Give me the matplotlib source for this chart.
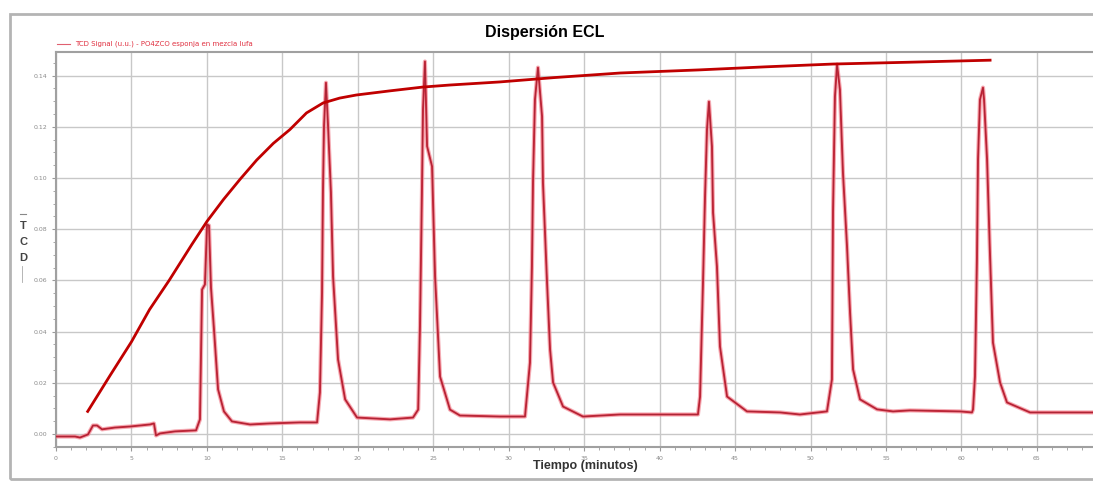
import matplotlib
matplotlib.use("Agg")
import matplotlib.pyplot as plt
from matplotlib.patches import Rectangle
from matplotlib.ticker import MultipleLocator

# TCD trace (time in minutes, signal in u.u.)
trace_t = [0.0, 1.26, 1.59, 2.12, 2.45, 2.72, 3.05, 3.91, 4.90, 6.23, 6.49, 6.63, 6.89, 7.89,
           # peak 1
           9.28, 9.54, 9.68, 9.87, 10.01, 10.14, 10.27, 10.47, 10.74, 11.13, 11.66, 12.86, 14.18, 16.17,
           # peak 2
           17.30, 17.49, 17.63, 17.69, 17.76, 17.89, 18.03, 18.22, 18.36, 18.69, 19.16, 19.95, 22.14, 23.66,
           # peak 3
           24.00, 24.12, 24.25, 24.32, 24.45, 24.59, 24.92, 25.12, 25.45, 26.11, 26.77, 29.42, 31.08,
           # peak 4
           31.41, 31.54, 31.61, 31.74, 31.94, 32.21, 32.27, 32.54, 32.74, 32.94, 33.60, 34.92, 37.38, 42.54,
           # peak 5
           42.68, 42.88, 43.01, 43.14, 43.27, 43.47, 43.54, 43.80, 44.00, 44.47, 45.79, 47.98, 49.30, 51.09,
           # peak 6
           51.42, 51.49, 51.62, 51.76, 51.95, 52.15, 52.42, 52.62, 52.82, 53.28, 54.41, 55.47, 56.59, 59.91, 60.70,
           # peak 7
           60.77, 60.90, 61.03, 61.10, 61.23, 61.43, 61.50, 61.70, 61.89, 62.09, 62.56, 63.02, 64.55, 68.72]
trace_v = [-0.0010, -0.0010, -0.0014, -0.0002, 0.0033, 0.0033, 0.0018, 0.0025, 0.0029, 0.0037, 0.0041, -0.0006, 0.0002, 0.0010,
           0.0014, 0.0057, 0.0564, 0.0584, 0.0818, 0.0814, 0.0572, 0.0408, 0.0174, 0.0088, 0.0049, 0.0037, 0.0041, 0.0045,
           0.0045, 0.0162, 0.0553, 0.0943, 0.1201, 0.1372, 0.1201, 0.0943, 0.0615, 0.0291, 0.0135, 0.0064, 0.0057, 0.0064,
           0.0095, 0.0420, 0.0943, 0.1267, 0.1455, 0.1124, 0.1045, 0.0615, 0.0224, 0.0095, 0.0072, 0.0068, 0.0068,
           0.0279, 0.0654, 0.0982, 0.1306, 0.1431, 0.1240, 0.0982, 0.0592, 0.0330, 0.0201, 0.0107, 0.0068, 0.0076, 0.0076,
           0.0146, 0.0603, 0.0927, 0.1189, 0.1298, 0.1122, 0.0865, 0.0654, 0.0342, 0.0146, 0.0088, 0.0084, 0.0076, 0.0088,
           0.0213, 0.0865, 0.1318, 0.1443, 0.1345, 0.1021, 0.0732, 0.0474, 0.0252, 0.0135, 0.0096, 0.0088, 0.0092, 0.0088, 0.0084,
           0.0096, 0.0225, 0.0681, 0.1072, 0.1306, 0.1353, 0.1306, 0.1072, 0.0709, 0.0357, 0.0201, 0.0123, 0.0084, 0.0084]

# hand-drawn trend line over the peaks
trend_t = [2.1, 3.6, 5.0, 6.2, 7.5, 9.0, 10.0, 11.1, 12.2, 13.3, 14.4, 15.5, 16.6, 17.7, 18.8,
           19.9, 22.1, 24.3, 26.1, 29.4, 33.0, 37.4, 42.6, 47.0, 51.5, 56.5, 61.9]
trend_v = [0.0088, 0.0230, 0.0360, 0.0486, 0.0600, 0.0740, 0.0830, 0.0916, 0.0995, 0.1070, 0.1135, 0.1189, 0.1254, 0.1293, 0.1312,
           0.1324, 0.1340, 0.1355, 0.1363, 0.1375, 0.1392, 0.1410, 0.1422, 0.1434, 0.1445, 0.1452, 0.1460]

x_ticks = list(range(0, 70, 5))
y_ticks = [0.00, 0.02, 0.04, 0.06, 0.08, 0.10, 0.12, 0.14]

W, H = 1093, 482
fig = plt.figure(figsize=(W / 100, H / 100), dpi=100)
fig.patches.append(Rectangle((10 / W, 3 / H), 1.0, 465 / H, transform=fig.transFigure,
                             fill=False, edgecolor="#b4b4b4", linewidth=2.0))

ax = fig.add_axes([56 / W, 35 / H, 1 - 56 / W, 395 / H])
ax.set_xlim(0, 68.72)
ax.set_ylim(-0.0051, 0.1492)
ax.set_xticks(x_ticks)
ax.set_yticks(y_ticks)
ax.set_xticklabels([str(x) for x in x_ticks])
ax.set_yticklabels([f"{y:.2f}" for y in y_ticks])
ax.xaxis.set_minor_locator(MultipleLocator(1))
ax.yaxis.set_minor_locator(MultipleLocator(0.005))
ax.tick_params(which="both", colors="#9a9a9a", labelsize=4.5, labelcolor="#8a8a8a")
ax.tick_params(which="major", length=3)
ax.tick_params(which="minor", length=2)
ax.grid(True, which="major", color="#c8c8c8", linewidth=1.0)
for s in ax.spines.values():
    s.set_color("#a0a0a0")
    s.set_linewidth(1.5)
ax.spines["right"].set_visible(False)

ax.plot(trace_t, trace_v, color="#f08a96", linewidth=3.0, alpha=0.7, zorder=3)
ax.plot(trace_t, trace_v, color="#d22a3c", linewidth=1.4, zorder=4)
ax.plot(trace_t, trace_v, color="#7a2030", linewidth=0.5, alpha=0.6, zorder=5)
ax.plot(trend_t, trend_v, color="#c00000", linewidth=2.0, zorder=6)

fig.text(545 / W, 1 - 33 / H, "Dispersión ECL", ha="center", va="center",
         fontsize=11.5, fontweight="bold", family="Liberation Sans")
fig.text(585 / W, 1 - 466 / H, "Tiempo (minutos)", ha="center", va="center",
         fontsize=9, fontweight="bold", family="Liberation Sans", color="#333333")
fig.text(23 / W, 1 - 242 / H, "T\nC\nD", ha="center", va="center", linespacing=1.7,
         fontsize=8, fontweight="bold", family="Liberation Sans", color="#444444")
fig.lines.append(plt.Line2D([20 / W, 26 / W], [1 - 214 / H, 1 - 214 / H],
                            transform=fig.transFigure, color="#888888", linewidth=0.8))
fig.lines.append(plt.Line2D([22 / W, 22 / W], [1 - 266 / H, 1 - 282 / H],
                            transform=fig.transFigure, color="#aaaaaa", linewidth=0.6))
fig.lines.append(plt.Line2D([57 / W, 70 / W], [1 - 44 / H, 1 - 44 / H],
                            transform=fig.transFigure, color="#e06070", linewidth=0.8))
fig.text(75 / W, 1 - 44 / H, "TCD Signal (u.u.) - PO4ZCO esponja en mezcla lufa",
         ha="left", va="center", fontsize=5, color="#e03040")

fig.savefig("out.png", dpi=100)
